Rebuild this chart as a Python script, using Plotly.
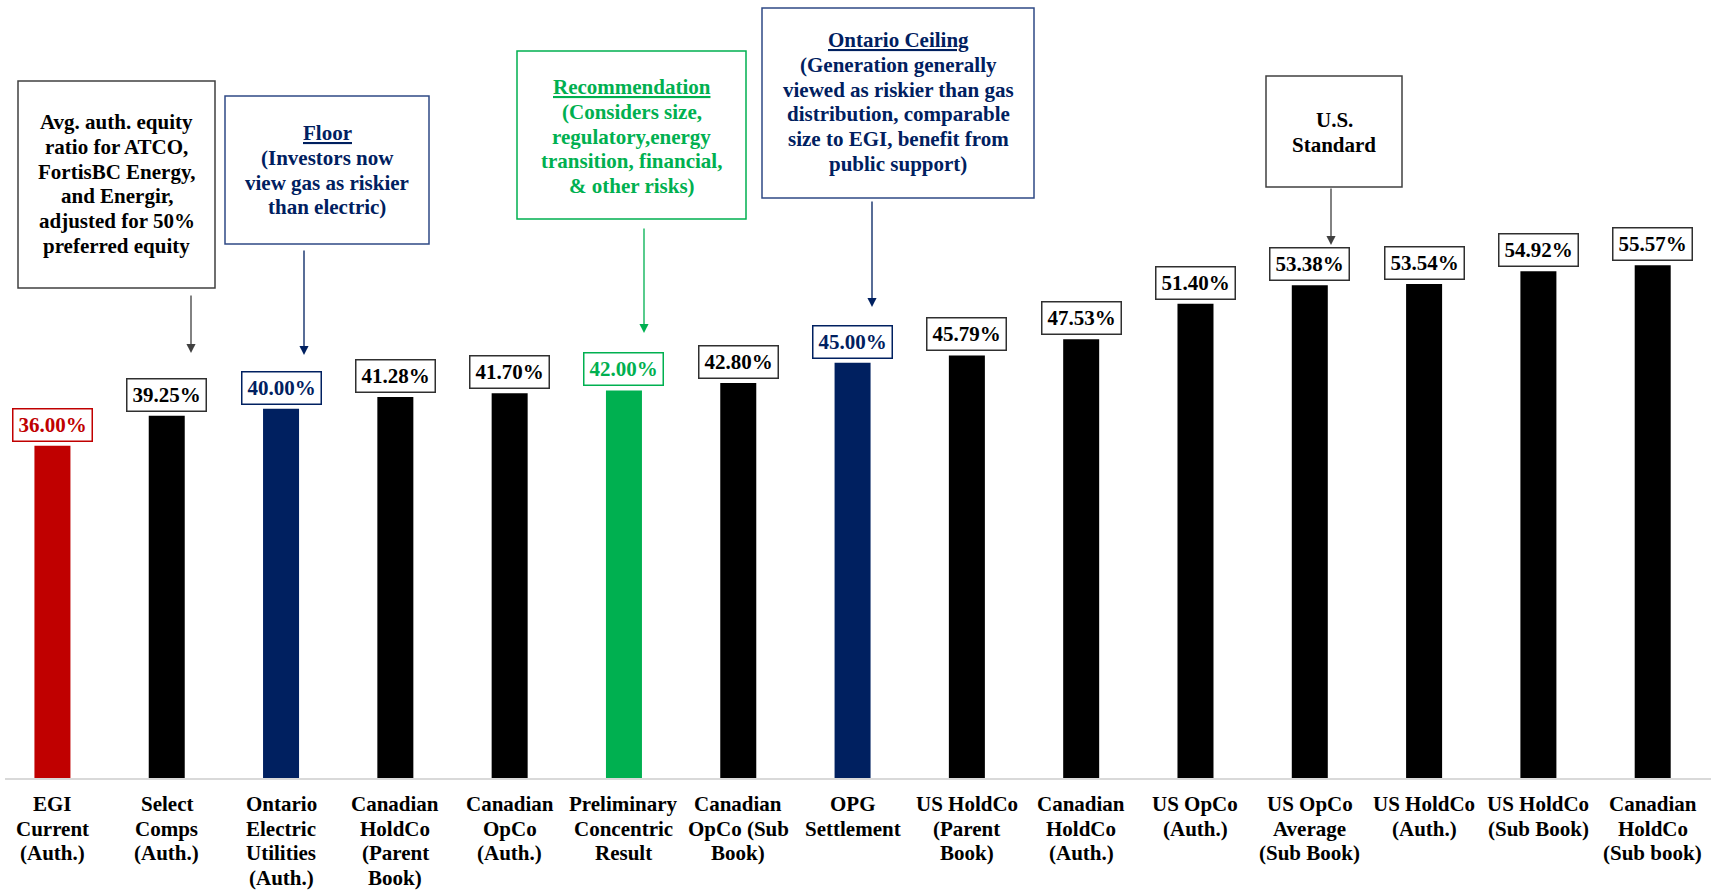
import plotly.graph_objects as go

# ---------------- data ----------------
categories = [
    "EGI Current (Auth.)", "Select Comps (Auth.)", "Ontario Electric Utilities (Auth.)",
    "Canadian HoldCo (Parent Book)", "Canadian OpCo (Auth.)", "Preliminary Concentric Result",
    "Canadian OpCo (Sub Book)", "OPG Settlement", "US HoldCo (Parent Book)",
    "Canadian HoldCo (Auth.)", "US OpCo (Auth.)", "US OpCo Average (Sub Book)",
    "US HoldCo (Auth.)", "US HoldCo (Sub Book)", "Canadian HoldCo (Sub book)",
]
category_lines = [
    ["EGI", "Current", "(Auth.)"],
    ["Select", "Comps", "(Auth.)"],
    ["Ontario", "Electric", "Utilities", "(Auth.)"],
    ["Canadian", "HoldCo", "(Parent", "Book)"],
    ["Canadian", "OpCo", "(Auth.)"],
    ["Preliminary", "Concentric", "Result"],
    ["Canadian", "OpCo (Sub", "Book)"],
    ["OPG", "Settlement"],
    ["US HoldCo", "(Parent", "Book)"],
    ["Canadian", "HoldCo", "(Auth.)"],
    ["US OpCo", "(Auth.)"],
    ["US OpCo", "Average", "(Sub Book)"],
    ["US HoldCo", "(Auth.)"],
    ["US HoldCo", "(Sub Book)"],
    ["Canadian", "HoldCo", "(Sub book)"],
]
values = [36.00, 39.25, 40.00, 41.28, 41.70, 42.00, 42.80, 45.00,
          45.79, 47.53, 51.40, 53.38, 53.54, 54.92, 55.57]

RED, BLACK, NAVY, GREEN = "#C00000", "#000000", "#002060", "#00B050"
bar_colors = [RED, BLACK, NAVY, BLACK, BLACK, GREEN, BLACK, NAVY,
              BLACK, BLACK, BLACK, BLACK, BLACK, BLACK, BLACK]

callout_texts = [
    ["Avg. auth. equity", "ratio for ATCO,", "FortisBC Energy,", "and Energir,",
     "adjusted for 50%", "preferred equity"],
    ["Floor", "(Investors now", "view gas as riskier", "than electric)"],
    ["Recommendation", "(Considers size,", "regulatory,energy", "transition, financial,",
     "& other risks)"],
    ["Ontario Ceiling", "(Generation generally", "viewed as riskier than gas",
     "distribution, comparable", "size to EGI, benefit from", "public support)"],
    ["U.S.", "Standard"],
]
callout_underlined = [False, True, True, True, False]
callout_colors = ["#000000", NAVY, GREEN, NAVY, "#000000"]
callout_borders = ["#404040", "#2F4A85", GREEN, "#2F4A85", "#404040"]
# layout geometry (pixels): box x0,y0,x1,y1 ; first line centre y ; arrow x, tail y, tip y
callout_boxes = [(18, 81, 215, 288), (225, 96, 429, 244), (517, 51, 746, 219),
                 (762, 8, 1034, 198), (1266, 76, 1402, 187)]
callout_first_line = [122, 133, 87, 40, 120]
callout_arrows = [(191, 294, 353), (304, 249, 355), (644, 227, 333),
                  (872, 200, 307), (1331, 187, 245)]
arrow_colors = ["#404040", NAVY, GREEN, NAVY, "#404040"]

# ---------------- layout helpers ----------------
W, H = 1711, 891
ML, MR, MT, MB = 5, 0, 0, 113
PW, PH = W - ML - MR, H - MT - MB
FONT = "Liberation Serif, Times New Roman, serif"
LINE = 24.8


def px_x(x):
    return (x - ML) / PW


def px_y(y):
    return 1 - (y - MT) / PH


fig = go.Figure(go.Bar(
    x=categories, y=values, marker=dict(color=bar_colors, line=dict(width=0)),
    width=0.315, hoverinfo="x+y",
))

annotations = []
shapes = []

# value labels
for c, v, col in zip(categories, values, bar_colors):
    annotations.append(dict(
        x=c, y=v, xref="x", yref="y", yanchor="bottom", yshift=4,
        text=f"{v:.2f}%", showarrow=False,
        font=dict(family=FONT, size=21, color=col, weight="bold"),
        bordercolor=col if col != BLACK else "#303030", borderwidth=1.5, borderpad=0,
        width=78, height=31, bgcolor="white", align="center", valign="middle",
    ))

# category labels (one annotation per line for tight line spacing)
for c, lines in zip(categories, category_lines):
    for k, t in enumerate(lines):
        annotations.append(dict(
            x=c, y=0, xref="x", yref="y", yanchor="middle", yshift=-(26 + k * 24.5),
            text=t, showarrow=False,
            font=dict(family=FONT, size=21, color="#000000", weight="bold"),
        ))

# callout boxes
for texts, und, col, bcol, box, y0l, arr, acol in zip(
        callout_texts, callout_underlined, callout_colors, callout_borders,
        callout_boxes, callout_first_line, callout_arrows, arrow_colors):
    x0, y0, x1, y1 = box
    shapes.append(dict(type="rect", xref="paper", yref="paper",
                       x0=px_x(x0), x1=px_x(x1), y0=px_y(y1), y1=px_y(y0),
                       line=dict(color=bcol, width=1.5), fillcolor="white", layer="above"))
    cx = (x0 + x1) / 2
    for k, t in enumerate(texts):
        f = dict(family=FONT, size=21, color=col, weight="bold")
        if und and k == 0:
            f["lineposition"] = "under"
        annotations.append(dict(
            x=px_x(cx), y=px_y(y0l + k * LINE), xref="paper", yref="paper",
            xanchor="center", yanchor="middle", text=t, showarrow=False, font=f,
        ))
    ax, tail, tip = arr
    annotations.append(dict(
        x=px_x(ax), y=px_y(tip), xref="paper", yref="paper", text="",
        showarrow=True, axref="pixel", ayref="pixel", ax=0, ay=-(tip - tail),
        arrowhead=2, arrowsize=1.4, arrowwidth=1.3, arrowcolor=acol, standoff=0,
    ))

fig.update_layout(
    width=W, height=H,
    margin=dict(l=ML, r=MR, t=MT, b=MB),
    paper_bgcolor="white", plot_bgcolor="white",
    showlegend=False,
    xaxis=dict(type="category", range=[-0.415, 14.51], showticklabels=False,
               showgrid=False, zeroline=False, showline=True,
               linecolor="#D9D9D9", linewidth=1.5, ticks=""),
    yaxis=dict(range=[0, 84.3], visible=False, showgrid=False, zeroline=False),
    annotations=annotations, shapes=shapes,
)

fig.write_html("out.html")
